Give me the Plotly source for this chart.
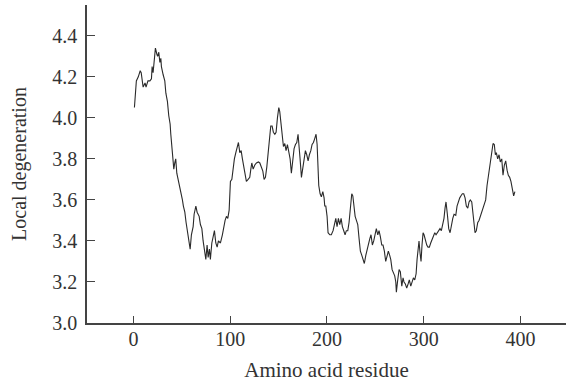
import plotly.graph_objects as go

residue = [
    1, 2, 3, 5, 7, 8, 9, 10, 12, 13, 15, 17, 18.6, 19.3, 20.3, 21.4, 22.7, 24.2, 25, 26.2,
    27.3, 28.3, 28.9, 30.7, 32.4, 33.5, 35.1, 36.5, 37.9, 38.6, 40, 40.7, 41.7, 42.7, 43.7, 44.8,
    46.2, 47.9, 49.6, 50.6, 51.6, 53.1, 54.4, 55.8, 57.2, 58.6, 59.9, 61.7, 62.7, 64.5,
    65.8, 67.9, 69.2, 70.7, 72, 73.3, 74.8, 76.1, 77.2, 78.5, 79.5, 81, 82.3, 83.7, 85.1, 86.5,
    87.8, 89.9, 91.9, 93.4, 94.7, 96.1, 97.5, 98.9, 99.6, 100.2, 101.7, 103, 104.3, 105.8,
    107.1, 108.5, 109.9, 111.3, 112.6, 114, 115.4, 116.7, 118.5, 120.2, 121.3, 122.3, 123.7,
    125.4, 127.1, 129.1, 130.6, 132.2, 133.7, 135, 136.4, 137.8, 139.2, 140.5, 141.9, 143.3,
    144.6, 146.1, 147.4, 148.8, 150.2, 151.2, 152.3, 153.6, 155, 156.4, 157.7, 159.1, 160.5,
    161.9, 163.2, 164.7, 166, 167.4, 168.8, 170.1, 171.2, 172.2, 173.6, 175, 176.3, 177.7,
    179.1, 180.5, 181.8, 183.3, 184.6, 186, 187.4, 188.7, 189.8, 190.5, 191.5, 192.9, 194.2,
    195.7, 197, 197.7, 198.8, 200.1, 201.1, 202.9, 204.5, 206.3, 207.6, 209.1, 210.4, 211.8,
    213.2, 214.6, 215.9, 217.4, 218.7, 220, 221.5, 222.8, 224.2, 225.6, 226.7, 227.7, 229.1,
    230.4, 231.8, 233.2, 234.5, 236, 237.3, 238.6, 240.1, 241.4, 242.8, 244.2, 245.5, 246.9,
    248.3, 249.7, 251, 252.5, 253.8, 255.2, 256.6, 257.9, 259.3, 260.7, 262, 263.4, 264.8,
    265.9, 267.3, 268.6, 270, 271.1, 271.7, 273.1, 274.5, 275.8, 277.3, 278.6, 279.6, 281,
    282.4, 283.8, 285.1, 286.6, 287.9, 289.3, 290.7, 292.1, 293.1, 294.1, 295.1, 296.2, 297.2,
    298.2, 299.3, 300.3, 301.7, 303.1, 304.4, 305.8, 307.2, 308.6, 309.9, 311.4, 312.7, 314,
    315.5, 316.8, 318.2, 319.6, 320.9, 322, 323, 324.4, 325.8, 327.2, 328.5, 330, 331.3,
    333.1, 334.4, 335.7, 337.2, 338.5, 339.9, 341.3, 342.7, 344, 345.5, 346.8, 348.1, 349.6,
    350.9, 352, 353, 354.3, 355.8, 357.1, 358.5, 359.9, 361.3, 362.6, 364, 365.4, 366.7,
    368.2, 369.2, 370.2, 371.6, 372.9, 374, 375, 376.4, 377.8, 379.1, 380.6, 381.9, 383.3,
    384.7, 386.1, 387.4, 388.8, 390.1, 391.5, 392.9, 394.2,
]

degeneration = [
    4.05, 4.11, 4.18, 4.20, 4.23, 4.22, 4.18, 4.15, 4.17, 4.15, 4.18, 4.18, 4.19, 4.25, 4.22, 4.29, 4.34, 4.31, 4.30, 4.32,
    4.27, 4.29, 4.25, 4.21, 4.18, 4.12, 4.08, 4.01, 3.97, 3.92, 3.85, 3.79, 3.75, 3.78, 3.80, 3.73,
    3.70, 3.67, 3.63, 3.60, 3.57, 3.54, 3.49, 3.45, 3.41, 3.36, 3.43, 3.47, 3.53, 3.57,
    3.54, 3.52, 3.48, 3.46, 3.40, 3.36, 3.31, 3.38, 3.32, 3.36, 3.31, 3.39, 3.42, 3.45, 3.39, 3.37,
    3.40, 3.39, 3.43, 3.48, 3.50, 3.52, 3.51, 3.55, 3.62, 3.69, 3.70, 3.76, 3.80, 3.83,
    3.86, 3.88, 3.83, 3.84, 3.80, 3.76, 3.71, 3.69, 3.70, 3.71, 3.75, 3.78, 3.75,
    3.77, 3.78, 3.785, 3.78, 3.76, 3.74, 3.70, 3.71, 3.76, 3.83, 3.88, 3.96, 3.96,
    3.93, 3.92, 3.93, 4.00, 4.05, 4.03, 3.98, 3.90, 3.86, 3.875, 3.84, 3.87, 3.83,
    3.80, 3.73, 3.81, 3.85, 3.87, 3.88, 3.92, 3.87, 3.80, 3.71, 3.76, 3.81, 3.84,
    3.82, 3.79, 3.82, 3.84, 3.87, 3.88, 3.90, 3.92, 3.87, 3.72, 3.67, 3.63, 3.615,
    3.64, 3.61, 3.57, 3.57, 3.52, 3.44, 3.43, 3.43, 3.45, 3.48, 3.51, 3.47, 3.51,
    3.48, 3.51, 3.47, 3.45, 3.43, 3.45, 3.45, 3.49, 3.56, 3.63, 3.62, 3.57, 3.52,
    3.50, 3.48, 3.41, 3.35, 3.33, 3.31, 3.29, 3.33, 3.36, 3.39, 3.41, 3.43, 3.38,
    3.40, 3.44, 3.46, 3.43, 3.45, 3.42, 3.38, 3.38, 3.35, 3.30, 3.33, 3.35, 3.33,
    3.31, 3.26, 3.24, 3.23, 3.20, 3.15, 3.21, 3.26, 3.25, 3.18, 3.22, 3.20, 3.19,
    3.17, 3.19, 3.21, 3.18, 3.20, 3.22, 3.21, 3.24, 3.31, 3.38, 3.40, 3.34, 3.30,
    3.38, 3.44, 3.43, 3.40, 3.38, 3.37, 3.37, 3.39, 3.41, 3.43, 3.44, 3.43, 3.44,
    3.45, 3.46, 3.45, 3.48, 3.51, 3.56, 3.59, 3.53, 3.46, 3.44, 3.48, 3.51, 3.53,
    3.525, 3.57, 3.59, 3.61, 3.62, 3.63, 3.63, 3.61, 3.57, 3.56, 3.59, 3.60, 3.59,
    3.54, 3.47, 3.44, 3.45, 3.49, 3.50, 3.52, 3.55, 3.57, 3.59, 3.60, 3.67, 3.71,
    3.75, 3.79, 3.83, 3.875, 3.87, 3.82, 3.83, 3.80, 3.82, 3.785, 3.80, 3.72, 3.77,
    3.79, 3.745, 3.72, 3.71, 3.69, 3.655, 3.62, 3.64,
]

x_ticks = [0, 100, 200, 300, 400]
y_ticks = [3.0, 3.2, 3.4, 3.6, 3.8, 4.0, 4.2, 4.4]
x_title = "Amino acid residue"
y_title = "Local degeneration"

font_family = "Liberation Serif, DejaVu Serif, serif"
axis_color = "#444444"

fig = go.Figure()
fig.add_trace(go.Scatter(
    x=residue, y=degeneration, mode="lines",
    line=dict(color="#2a2a2a", width=1.1),
    showlegend=False, hoverinfo="skip",
))

fig.update_layout(
    width=566, height=387,
    margin=dict(l=87, r=0, t=5, b=64),
    paper_bgcolor="white", plot_bgcolor="white",
    font=dict(family=font_family, size=20, color="#333333"),
)
fig.update_xaxes(
    range=[-48, 447], tickvals=x_ticks, ticktext=[str(v) for v in x_ticks],
    ticks="inside", ticklen=7, tickwidth=1.3, tickcolor=axis_color,
    showline=True, linecolor=axis_color, linewidth=1.5,
    showgrid=False, zeroline=False, ticklabelstandoff=-3,
    title=dict(text=x_title, standoff=14, font=dict(size=21)),
    tickfont=dict(size=20),
)
fig.update_yaxes(
    range=[3.0, 4.55], tickvals=y_ticks, ticktext=[f"{v:.1f}" for v in y_ticks],
    ticks="inside", ticklen=8, tickwidth=1.3, tickcolor=axis_color,
    showline=True, linecolor=axis_color, linewidth=1.5,
    showgrid=False, zeroline=False, ticklabelstandoff=4,
    title=dict(text=y_title, standoff=20, font=dict(size=20)),
    tickfont=dict(size=20),
)

fig.write_html("out.html")
